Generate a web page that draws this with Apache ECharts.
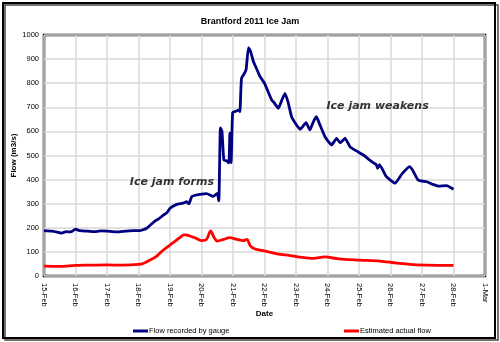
<!DOCTYPE html>
<html><head><meta charset="utf-8">
<script src="https://cdn.jsdelivr.net/npm/echarts@6/dist/echarts.min.js"></script>
<style>html,body{margin:0;padding:0;background:#fff}#c{width:500px;height:342px}</style>
</head><body><div id="c"></div>
<script>
const tickLabels = ['15-Feb','16-Feb','17-Feb','18-Feb','19-Feb','20-Feb','21-Feb','22-Feb','23-Feb','24-Feb','25-Feb','26-Feb','27-Feb','28-Feb','1-Mar'];
const seriesNames = ['Flow recorded by gauge','Estimated actual flow'];
// days after 15-Feb
const gaugeDays = [0,0.25,0.45,0.56,0.7,0.85,1.0,1.15,1.4,1.6,1.8,2.0,2.3,2.6,2.85,3.03,3.26,3.52,3.65,3.79,3.9,4.0,4.21,4.4,4.53,4.6,4.69,4.8,4.95,5.16,5.37,5.5,5.55,5.6,5.65,5.71,5.8,5.87,5.9,5.94,5.99,6.1,6.2,6.22,6.27,6.38,6.42,6.49,6.55,6.65,6.75,6.86,7.0,7.07,7.23,7.3,7.44,7.55,7.65,7.75,7.86,8.0,8.13,8.32,8.44,8.55,8.65,8.75,8.92,9.13,9.29,9.4,9.56,9.71,9.9,10.14,10.3,10.45,10.55,10.59,10.65,10.87,11.14,11.36,11.6,11.7,11.88,12.15,12.35,12.52,12.78,13.0];
const gaugeFlow = [188,186,181,178,184,183,194,188,186,184,187,186,183,186,188,188,198,228,238,253,262,281,297,302,308,300,329,335,339,342,330,343,312,615,600,481,478,469,593,470,679,684,689,682,820,845,860,947,935,889,860,827,800,779,730,720,696,730,758,720,661,630,609,636,606,640,661,630,578,544,571,553,571,537,520,502,485,470,462,447,462,412,385,423,454,440,398,391,380,373,375,360];
const estDays = [0,0.5,1.0,1.5,2.0,2.5,3.0,3.15,3.37,3.6,3.79,4.1,4.3,4.42,4.5,4.63,4.8,5.0,5.16,5.29,5.4,5.5,5.7,5.9,6.1,6.33,6.44,6.55,6.7,7.0,7.4,7.81,8.2,8.55,8.92,9.35,10.03,10.67,11.2,11.83,12.5,13.0];
const estFlow = [41,40,44,45,46,45,48,52,66,85,108,138,158,170,171,166,158,147,152,187,160,145,152,159,153,147,152,125,112,104,92,85,77,73,79,71,66,62,53,46,44,44];
const noteText = ['Ice jam forms','Ice jam weakens'];
const noteDay = [4.06,10.59];
const noteFlow = [390,705];

const pair = (xs, ys) => xs.map((x, i) => [x, ys[i]]);
const chart = echarts.init(document.getElementById('c'), null, {renderer:'canvas'});
const font = 'Liberation Sans, Arial, sans-serif';
chart.setOption({
  animation:false,
  backgroundColor:'#fff',
  title:{text:'Brantford 2011 Ice Jam', left:'center', top:12,
    textStyle:{fontFamily:font, fontSize:9, fontWeight:'bold', color:'#000'}},
  grid:{left:44, top:35, right:15, bottom:66, containLabel:false, outerBoundsMode:'none',
    show:true, borderColor:'#000', borderWidth:2.5, backgroundColor:'#fff'},
  legend:[
    {left:128, top:322, data:[seriesNames[0]], icon:'rect', itemWidth:15, itemHeight:3, itemGap:2,
      textStyle:{fontFamily:font, fontSize:7.5, color:'#000', padding:[0,0,0,-4]}},
    {left:339, top:322, data:[seriesNames[1]], icon:'rect', itemWidth:15, itemHeight:3, itemGap:2,
      textStyle:{fontFamily:font, fontSize:7.5, color:'#000', padding:[0,0,0,-4]}}
  ],
  xAxis:{type:'value', min:0, max:14, interval:1, name:'Date', nameLocation:'middle', nameGap:34, nameMoveOverlap:false,
    nameTextStyle:{fontFamily:font, fontSize:8, fontWeight:'bold', color:'#000'},
    axisLine:{show:false}, axisTick:{show:false},
    splitLine:{show:true, lineStyle:{color:'#d8d8d8', width:1.5}},
    axisLabel:{rotate:-90, margin:7, fontFamily:font, fontSize:7.5, color:'#000',
      formatter:v => tickLabels[Math.round(v)] || ''}},
  yAxis:{type:'value', min:0, max:1000, interval:100, name:'Flow (m3/s)', nameLocation:'middle', nameGap:26, nameMoveOverlap:false,
    nameTextStyle:{fontFamily:font, fontSize:8, fontWeight:'bold', color:'#000'},
    axisLine:{show:false}, axisTick:{show:false},
    splitLine:{show:true, lineStyle:{color:'#d8d8d8', width:1.5}},
    axisLabel:{margin:5, fontFamily:font, fontSize:7.5, color:'#000', formatter:v => String(v)}},
  series:[
    {name:seriesNames[0], type:'line', data:pair(gaugeDays, gaugeFlow), showSymbol:false, smooth:0.15,
      lineStyle:{color:'#000080', width:2.8}, itemStyle:{color:'#000080'}, z:3},
    {name:seriesNames[1], type:'line', data:pair(estDays, estFlow), showSymbol:false, smooth:0.3,
      lineStyle:{color:'#ff0000', width:2.8}, itemStyle:{color:'#ff0000'}, z:2},
    {name:'notes', type:'scatter', symbolSize:0, silent:true, data:pair(noteDay, noteFlow).map((p,i)=>({value:p, label:{formatter:noteText[i]}})),
      label:{show:true, position:'inside', fontFamily:'DejaVu Sans, Verdana, sans-serif', fontSize:11, fontWeight:'bold', fontStyle:'italic', color:'#000'}, z:4}
  ],
  graphic:[
    {type:'rect', shape:{x:5, y:5, width:493, height:335}, style:{fill:'none', stroke:'#444', lineWidth:1.5}, z:-1},
    {type:'rect', shape:{x:3, y:3, width:492, height:335}, style:{fill:'none', stroke:'#000', lineWidth:2}, z:10}
  ]
});
</script></body></html>
